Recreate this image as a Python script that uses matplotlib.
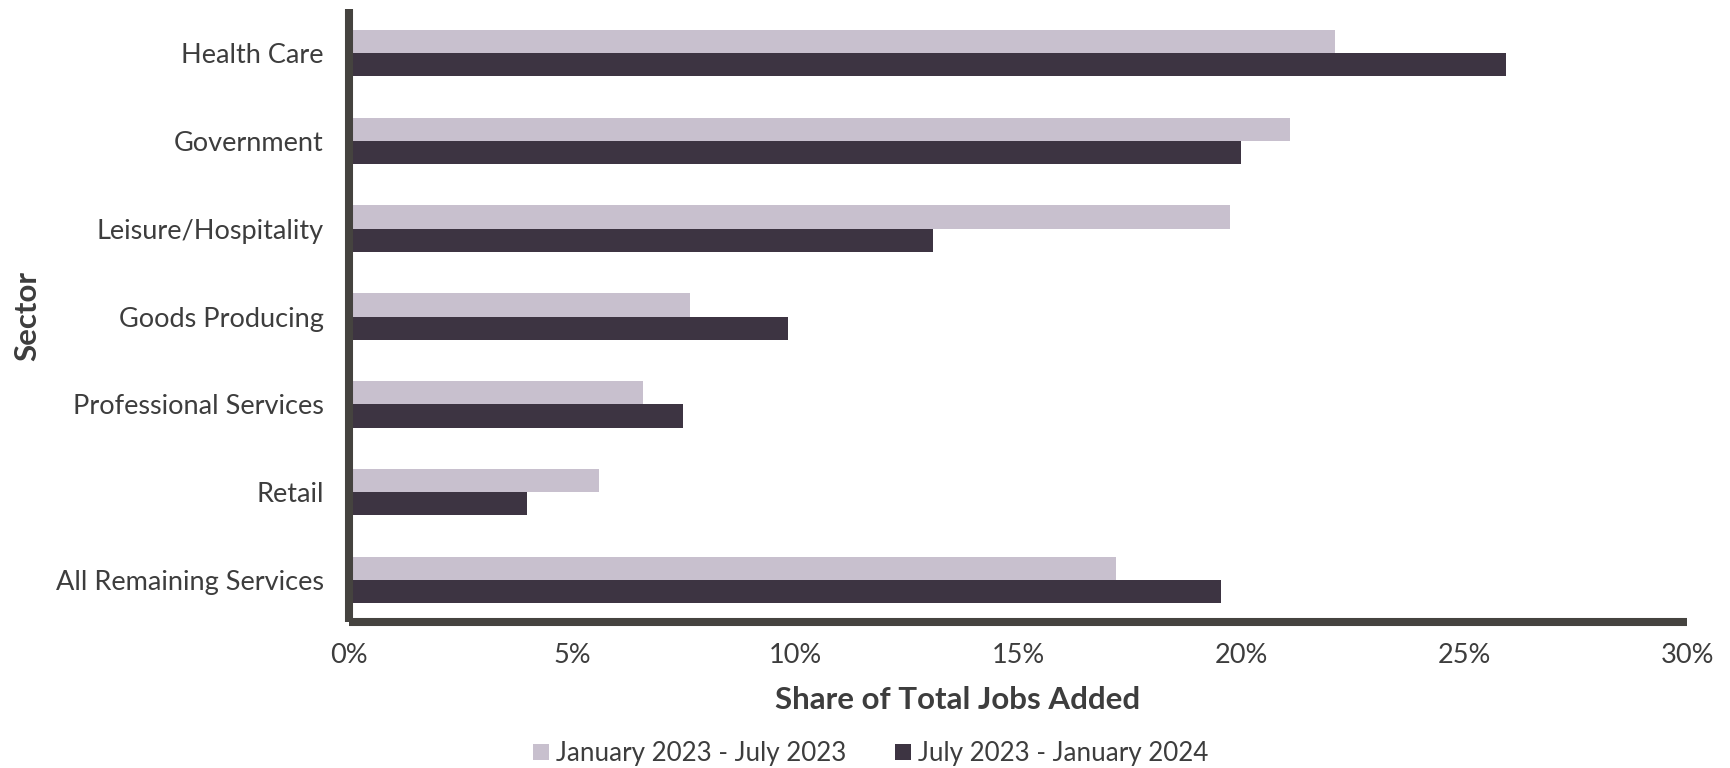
import numpy as np
import matplotlib
matplotlib.use("Agg")
import matplotlib.pyplot as plt
from matplotlib.ticker import PercentFormatter

sectors = [
    "Health Care",
    "Government",
    "Leisure/Hospitality",
    "Goods Producing",
    "Professional Services",
    "Retail",
    "All Remaining Services",
]
first_half = [22.1, 21.1, 19.75, 7.65, 6.6, 5.6, 17.2]
second_half = [25.95, 20.0, 13.1, 9.85, 7.5, 4.0, 19.55]
period_labels = ["January 2023 - July 2023", "July 2023 - January 2024"]

light = "#c8c0ce"
dark = "#3d3442"
axis_color = "#45433f"
text_color = "#3d3d3d"

plt.rcParams["font.family"] = ["Lato", "DejaVu Sans"]

fig = plt.figure(figsize=(17.31, 7.68), dpi=100)
ax = fig.add_axes([0.2016, 0.190, 0.7730, 0.798])

y = np.arange(len(sectors))
h = 0.265
ax.barh(y - h / 2, first_half, height=h, color=light, label=period_labels[0])
ax.barh(y + h / 2, second_half, height=h, color=dark, label=period_labels[1])

ax.set_xlim(0, 30)
ax.set_ylim(6.48, -0.5)
ax.set_yticks(y)
ax.set_yticklabels(sectors)
ax.set_xticks(np.arange(0, 31, 5))
ax.xaxis.set_major_formatter(PercentFormatter(decimals=0))

for side in ["top", "right"]:
    ax.spines[side].set_visible(False)
for side in ["left", "bottom"]:
    ax.spines[side].set_color(axis_color)
    ax.spines[side].set_linewidth(5.8)
    ax.spines[side].set_capstyle("butt")

ax.tick_params(axis="both", length=0, labelsize=19.5, colors=text_color)
ax.tick_params(axis="y", pad=18)
ax.tick_params(axis="x", pad=15)

ax.set_xlabel("Share of Total Jobs Added", fontsize=22.5, fontweight="bold",
              color=text_color)
ax.set_ylabel("Sector", fontsize=22.5, fontweight="bold", color=text_color)
ax.yaxis.set_label_coords(-0.23, 0.5)
ax.xaxis.set_label_coords(0.455, -0.105)

fig.legend(loc="lower center", bbox_to_anchor=(0.503, -0.028), ncol=2,
           frameon=False, fontsize=18.7, labelcolor=text_color,
           handlelength=0.62, handleheight=0.62, handletextpad=0.25,
           columnspacing=1.9)

fig.savefig("out.png", dpi=100)
